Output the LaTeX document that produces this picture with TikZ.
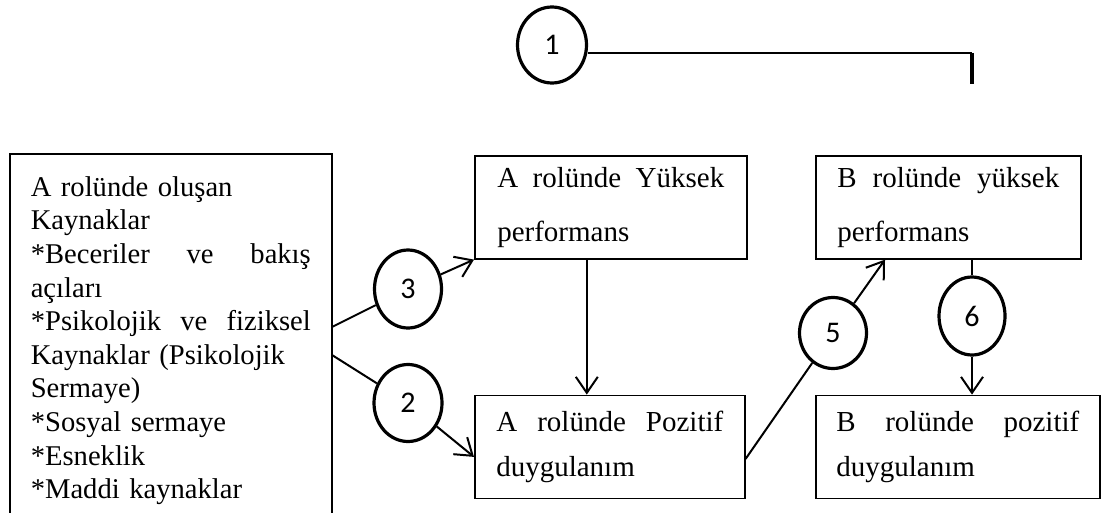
\documentclass[tikz,border=0pt]{standalone}
\usepackage{fontspec}
\setmainfont{Liberation Serif}
\newfontfamily\numfont{Carlito}
\usetikzlibrary{positioning,shapes.geometric,arrows.meta}

\tikzset{
  kutu/.style={draw, line width=0.8pt, anchor=north west, align=left,
    font=\fontsize{14.5}{22.5}\selectfont, minimum height=51.5pt},
  kaynak/.style={draw, line width=0.8pt, anchor=north west, align=left,
    font=\fontsize{14.3}{16.8}\selectfont},
  yuvarlak/.style={draw, ellipse, line width=1.6pt, inner sep=0pt,
    font=\numfont\fontsize{15}{17}\selectfont},
}

\begin{document}
\begin{tikzpicture}[x=0.5pt, y=-0.5pt, line width=1pt,
    >={Straight Barb[length=8pt,width=11pt]}]
    \useasboundingbox (0,0) rectangle (1101,513);
    % kutular
    \node[kaynak, text width=140pt, inner xsep=10.5pt, inner ysep=11.3pt] (res) at (9,153)
        {A rolünde oluşan\\
         Kaynaklar\\
         {*}Beceriler\hfill ve\hfill bakış\\
         açıları\\
         {*}Psikolojik\hfill ve\hfill fiziksel\\
         Kaynaklar (Psikolojik\\
         Sermaye)\\
         {*}Sosyal sermaye\\
         {*}Esneklik\\
         {*}Maddi kaynaklar};
    \node[kutu, text width=113.5pt, inner xsep=11.25pt,
        font=\fontsize{14.5}{27}\selectfont] (Ayuk) at (474,155)
        {A\hfill rolünde\hfill Yüksek\\performans};
    \node[kutu, text width=111pt, inner xsep=10.75pt,
        font=\fontsize{14.5}{27}\selectfont] (Byuk) at (815,155)
        {B\hfill rolünde\hfill yüksek\\performans};
    \node[kutu, text width=113.5pt, inner xsep=10.75pt,
        below=67.5pt of Ayuk.south west, anchor=north west] (Apoz)
        {A\hfill rolünde\hfill Pozitif\\duygulanım};
    \node[kutu, text width=121.5pt, inner xsep=10.25pt,
        below=67.5pt of Byuk.south west, anchor=north west] (Bpoz)
        {B\hfill rolünde\hfill pozitif\\duygulanım};
    % numaralar
    \node[yuvarlak, minimum width=34.5pt, minimum height=38pt] (c1) at (552,45) {1};
    \node[yuvarlak, minimum width=34pt, minimum height=38.5pt] (c2) at (408,403) {2};
    \node[yuvarlak, minimum width=33.5pt, minimum height=39pt] (c3) at (408,289) {3};
    \node[yuvarlak, minimum width=33.5pt, minimum height=35.5pt] (c5) at (833,333) {5};
    \node[yuvarlak, minimum width=33pt, minimum height=39pt] (c6) at (972,316) {6};
    % baglantilar
    \coordinate (r3) at (332,327);
    \coordinate (r2) at (332,355);
    \coordinate (k1) at (972,53);
    \coordinate (k2) at (972,84);
    \draw (r3) -- (c3);
    \draw[->] (c3) -- (Ayuk.south west);
    \draw (r2) -- (c2);
    \draw[->] (c2) -- ([yshift=-5pt]Apoz.west);
    \draw[->] ([xshift=-12pt]Ayuk.south) -- ([xshift=-12pt]Ayuk.south |- Apoz.north);
    \draw ([yshift=-6pt]Apoz.east) -- (c5);
    \draw[->] (c5) -- ([xshift=35pt]Byuk.south west);
    \draw (Byuk.south -| c6) -- (c6);
    \draw[->] (c6) -- (Bpoz.north -| c6);
    \draw (c1.east |- k1) -- (k1);
    \draw[line width=1.6pt] (k1) -- (k2);
\end{tikzpicture}
\end{document}
